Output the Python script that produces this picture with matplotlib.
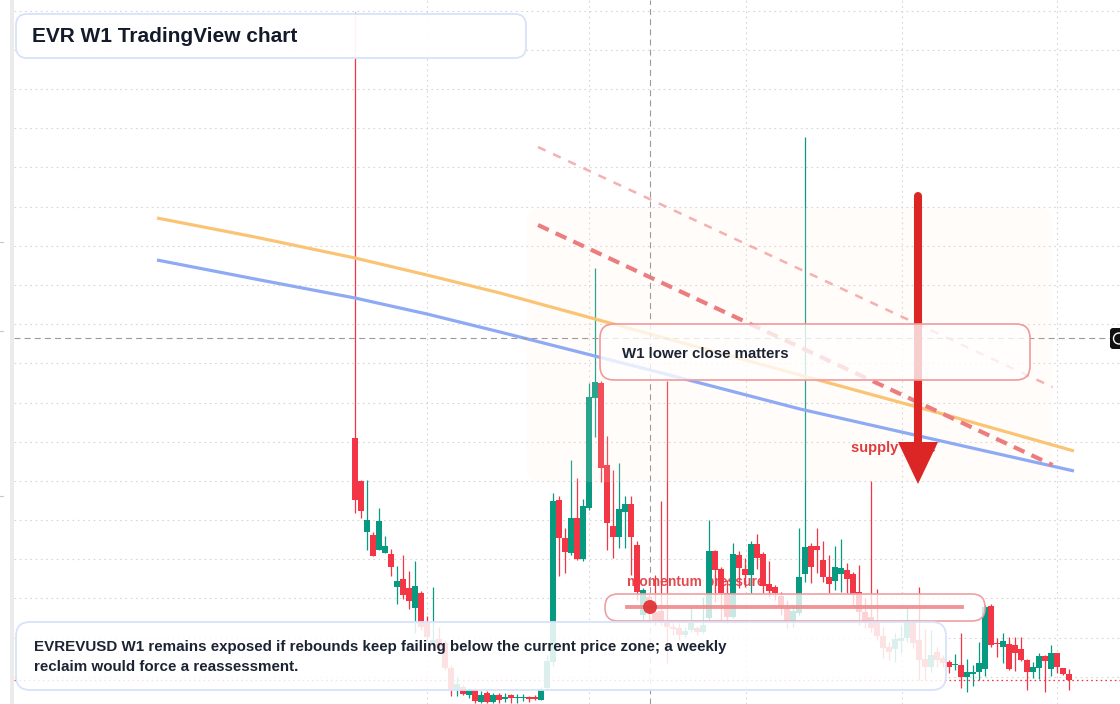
import matplotlib
matplotlib.use("Agg")
import matplotlib.pyplot as plt
from matplotlib.patches import FancyBboxPatch, Polygon, Circle, Rectangle
from matplotlib.lines import Line2D
from matplotlib.transforms import Affine2D
from matplotlib.ticker import MultipleLocator, FixedLocator
import numpy as np

plt.rcParams['lines.scale_dashes'] = False
plt.rcParams['font.family'] = ['Liberation Sans', 'DejaVu Sans']

# ---------------- data ----------------
opens = [2.82,2.39,1.88,1.85,1.70,1.67,1.66,1.33,1.41,1.32, 1.12,1.27,0.97,0.77,0.81,0.77,0.52,0.31,0.33,0.25,
         0.30,0.18,0.27,0.18,0.25,0.21,0.25,0.22,0.22,0.23, 0.23,0.20,0.32,0.58,2.20,1.82,1.67,2.02,1.61,2.12,
         3.22,3.37,2.55,1.94,1.83,2.08,2.16,1.75,1.05,1.23, 1.08,1.09,0.98,0.93,0.92,0.85,0.90,0.92,0.88,1.02,
         1.69,1.51,1.27,1.03,1.65,1.51,1.45,1.76,1.66,1.36, 1.33,1.24,1.12,0.98,1.07,1.46,1.74,1.74,1.60,1.43,
         1.39,1.46,1.50,1.46,1.28,1.08,1.03,0.98,0.84,0.73, 0.71,0.79,0.82,0.97,0.80,0.61,0.53,0.68,0.62,0.58,
         0.55,0.55,0.43,0.46,0.48,0.51,1.14,0.77,0.73,0.76, 0.75,0.71,0.60,0.48,0.52,0.64,0.51,0.67,0.52,0.46]
highs = [7.08,2.40,2.40,1.88,2.12,1.84,1.71,1.54,1.65,1.49, 1.59,1.29,1.04,1.33,0.93,0.80,0.55,0.43,0.35,0.32,
         0.32,0.29,0.29,0.27,0.27,0.27,0.26,0.26,0.26,0.24, 0.25,0.33,0.65,2.27,2.24,1.92,2.60,2.42,2.21,3.37,
         4.52,3.39,2.84,2.50,2.57,2.24,2.24,1.79,1.32,1.26, 1.45,2.19,3.39,0.97,0.97,0.93,1.15,0.94,1.23,2.00,
         1.70,1.53,1.40,1.77,1.69,1.62,1.79,1.86,1.68,1.59, 1.35,1.28,1.20,1.15,1.92,5.83,1.77,1.92,1.79,1.65,
         1.74,1.81,1.57,1.48,1.55,1.22,2.39,1.31,0.93,0.78, 0.87,0.95,1.14,1.00,1.33,0.91,0.90,0.73,0.65,0.60,
         0.66,0.87,0.61,0.55,0.78,1.15,1.16,0.82,0.87,0.83, 0.83,0.83,0.61,0.58,0.67,0.65,0.75,0.67,0.52,0.51]
lows = [2.07,2.02,1.70,1.64,1.70,1.67,1.44,1.16,1.21,1.11, 0.87,0.90,0.80,0.75,0.70,0.50,0.24,0.24,0.25,0.22,
        0.17,0.17,0.17,0.17,0.17,0.18,0.17,0.17,0.19,0.18, 0.20,0.20,0.30,0.54,1.44,1.47,1.65,1.60,1.59,2.10,
        2.83,2.38,1.70,1.62,1.72,1.72,1.45,1.20,1.00,1.00, 0.95,0.95,0.57,0.85,0.80,0.83,0.88,0.85,0.87,1.00,
        1.18,1.00,0.97,1.02,1.32,1.33,1.27,1.51,1.27,1.23, 1.20,1.05,0.92,0.93,1.05,1.38,1.37,1.47,1.38,1.27,
        1.30,1.28,1.27,1.13,0.95,0.92,0.88,0.80,0.62,0.60, 0.58,0.67,0.78,0.72,0.40,0.40,0.48,0.53,0.53,0.47,
        0.50,0.32,0.28,0.34,0.40,0.44,0.73,0.63,0.57,0.50, 0.49,0.59,0.30,0.42,0.41,0.28,0.44,0.47,0.45,0.30]
closes = [2.20,2.09,2.00,1.64,1.99,1.74,1.53,1.39,1.25,1.19, 1.34,0.93,0.83,0.80,0.72,0.52,0.31,0.36,0.26,0.30,
          0.19,0.25,0.18,0.25,0.20,0.23,0.22,0.23,0.23,0.21, 0.21,0.30,0.59,2.19,1.82,1.68,2.02,1.61,2.14,3.23,
          3.38,2.52,1.97,1.83,2.11,2.16,1.83,1.28,1.30,1.08, 1.00,0.99,0.93,0.91,0.85,0.89,0.98,0.88,0.95,1.69,
          1.50,1.27,1.03,1.66,1.52,1.45,1.76,1.62,1.34,1.29, 1.27,1.13,0.98,1.09,1.43,1.73,1.53,1.70,1.43,1.36,
          1.53,1.52,1.41,1.26,1.08,0.97,0.92,0.84,0.72,0.68, 0.81,0.82,0.97,0.77,0.60,0.53,0.65,0.60,0.57,0.53,
          0.56,0.43,0.48,0.48,0.57,1.13,0.75,0.76,0.79,0.51, 0.67,0.60,0.48,0.53,0.64,0.59,0.67,0.53,0.46,0.40]

# moving-average style curves (bar index, price)
ma_idx = [-33, -16.67, 0, 12, 24.17, 49.17, 74.17, 99.17, 119.83]
ma_fast = [5.02, 4.83, 4.62, 4.45, 4.27, 3.86, 3.45, 3.04, 2.69]
ma_slow = [4.60, 4.41, 4.22, 4.06, 3.88, 3.50, 3.11, 2.77, 2.49]

# descending trendlines (bar index, price)
trend_main_idx = [30.5, 116.25]
trend_main = [4.95, 2.55]
trend_upper_idx = [30.5, 116.25]
trend_upper = [5.73, 3.33]

cross_idx = 49.17
cross_price = 3.82
last_price = closes[-1]
month_idx = [12, 39, 65.17, 91.17, 117]

title = "EVR W1 TradingView chart"
note_lines = ["EVREVUSD W1 remains exposed if rebounds keep failing below the current price zone; a weekly",
              "reclaim would force a reassessment."]

# ---------------- figure ----------------
W, H = 1120, 704
fig = plt.figure(figsize=(W / 100, H / 100), dpi=100)
fig.patch.set_facecolor('white')
ax = fig.add_axes([14 / W, 0, (W - 14) / W, 1])
ax.set_facecolor('white')

x0_idx = (14 - 355) / 6.0
x1_idx = (W - 355) / 6.0
ax.set_xlim(x0_idx, x1_idx)
ax.set_ylim(7.20 - H / 100.0, 7.20)
for s in ax.spines.values():
    s.set_visible(False)
ax.tick_params(length=0, labelleft=False, labelbottom=False)
ax.yaxis.set_major_locator(MultipleLocator(0.3917, offset=0.0414))
ax.xaxis.set_major_locator(FixedLocator(month_idx))
ax.grid(True, color='#d6d6d6', linestyle=(0, (1.2, 2.6)), linewidth=0.8, zorder=0)
ax.set_axisbelow(True)

# pixel transform (top-left origin) for layout elements
pix = Affine2D().scale(1.0 / W, -1.0 / H).translate(0, 1) + fig.transFigure

GREEN = '#089981'
RED = '#f23645'
idx = np.arange(len(opens))
o = np.array(opens); c = np.array(closes); hi = np.array(highs); lo = np.array(lows)
up = c >= o
cols = np.where(up, GREEN, RED)
ax.vlines(idx, lo, hi, colors=cols, linewidth=0.9, zorder=3)
body_b = np.minimum(o, c)
body_h = np.maximum(np.abs(c - o), 0.012)
ax.bar(idx, body_h, bottom=body_b, width=0.85, color=cols, linewidth=0, zorder=4)

# supply zone tint (over candles)
zone = FancyBboxPatch((526, 208), 527, 274, boxstyle="round,pad=0,rounding_size=16",
                      transform=pix, facecolor='#ffeedd', edgecolor='none', alpha=0.14, zorder=5)
ax.add_patch(zone)

# curves
ax.plot(ma_idx, ma_fast, color='#fbc475', linewidth=2.3, zorder=6, solid_capstyle='butt')
ax.plot(ma_idx, ma_slow, color='#8eaaf5', linewidth=2.3, zorder=6, solid_capstyle='butt')
ax.plot(trend_upper_idx, trend_upper, color='#f5b0b0', linewidth=1.8,
        linestyle=(0, (6, 6)), zorder=6)
ax.plot(trend_main_idx, trend_main, color='#ec7d7f', linewidth=3.0,
        linestyle=(0, (8.5, 5.5)), zorder=6)

# current price dotted line
ax.axhline(last_price, color=RED, linewidth=0.9, linestyle=(0, (1.2, 2.2)), zorder=6)

# crosshair
ax.axvline(cross_idx, color='#9a9a9a', linewidth=0.8, linestyle=(0, (4.3, 3.0)), zorder=7)
ax.plot([x0_idx, (1110 - 355) / 6.0], [cross_price, cross_price], color='#9a9a9a',
        linewidth=0.8, linestyle=(0, (4.3, 3.0)), zorder=7)

# "momentum pressure" label sits beneath candles
ax.text(627 / W, 1 - 582 / H, "momentum pressure", transform=fig.transFigure,
        fontsize=10, fontweight='bold', color='#e34a4f', va='center', ha='left', zorder=2)

# supply zone label and arrow
ax.text(851 / W, 1 - 448 / H, "supply zone", transform=fig.transFigure,
        fontsize=10.5, fontweight='bold', color='#e03b3f', va='center', ha='left', zorder=8)
ax.add_line(Line2D([918, 918], [196, 444], transform=pix, color='#dc2626',
                   linewidth=5.8, solid_capstyle='round', zorder=9))
ax.add_patch(Polygon([(898, 442), (938, 442), (918, 484)], closed=True, transform=pix,
                     facecolor='#dc2626', edgecolor='none', zorder=9))

# ---------------- overlay boxes (figure level) ----------------
def rbox(x0, y0, x1, y1, r, fc, ec, lw, alpha=1.0, z=10):
    p = FancyBboxPatch((x0, y0), x1 - x0, y1 - y0,
                       boxstyle=f"round,pad=0,rounding_size={r}", transform=pix,
                       facecolor=fc, edgecolor=ec, linewidth=lw, zorder=z)
    p.set_facecolor(matplotlib.colors.to_rgba(fc, alpha))
    fig.patches.append(p)
    return p

# W1 lower close box
rbox(600, 324, 1030, 380, 14, 'white', '#f09a9c', 1.2, alpha=0.78, z=10)
fig.text(622 / W, 1 - 354 / H, "W1 lower close matters", fontsize=10.8, fontweight='bold',
         color='#1c2333', va='center', ha='left', zorder=11)

# momentum box
rbox(605, 594, 985, 621, 13, 'white', '#f0a0a2', 1.2, alpha=0.78, z=10)
fig.lines.append(Line2D([627, 962], [607, 607], transform=pix, color='#ef8a8c',
                        linewidth=2.8, alpha=0.9, zorder=11))
fig.patches.append(Circle((650, 607), 7, transform=pix, facecolor='#e0363a',
                          edgecolor='none', alpha=0.95, zorder=12))

# bottom note box
rbox(16, 622, 946, 690, 14, 'white', '#d7e3fa', 1.3, alpha=0.86, z=13)
for line, ly in zip(note_lines, (647, 667)):
    fig.text(34 / W, 1 - ly / H, line, fontsize=10.9, fontweight='bold', color='#1c2333',
             va='center', ha='left', zorder=14)

# title box
rbox(16, 14, 526, 58, 11, 'white', '#d7e3fa', 1.3, alpha=0.95, z=13)
fig.text(32 / W, 1 - 36 / H, title, fontsize=15, fontweight='bold', color='#131a2a',
         va='center', ha='left', zorder=14)

# crosshair price label at right edge
rbox(1110, 328, 1136, 349, 3, '#111111', 'none', 0, alpha=1.0, z=15)
fig.patches.append(Circle((1119, 338.5), 5.5, transform=pix, facecolor='none',
                          edgecolor='white', linewidth=1.0, zorder=16))

# left panel border and tiny ticks
fig.patches.append(Rectangle((10, 0), 4, H, transform=pix,
                             facecolor='#ebebeb', edgecolor='none', zorder=15))
for ty in (242, 331, 496):
    fig.lines.append(Line2D([0, 3], [ty, ty], transform=pix, color='#c8c8c8',
                            linewidth=0.8, zorder=15))

fig.savefig("out.png", dpi=100, facecolor='white')
